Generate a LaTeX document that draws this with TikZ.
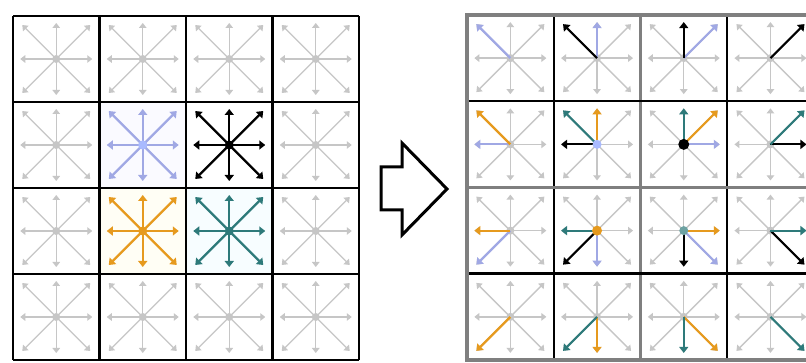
\documentclass[tikz,border=0pt]{standalone}
\usetikzlibrary{arrows.meta}
\definecolor{gr}{HTML}{C6C6C6}
\definecolor{lb}{HTML}{A0A8E4}
\definecolor{lbdot}{HTML}{A9BAFF}
\definecolor{og}{HTML}{E69A1E}
\definecolor{tl}{HTML}{2E7A7A}
\definecolor{frame}{HTML}{7F7F7F}
\tikzset{
  garrow/.style={draw=gr, line width=1.4pt, -{Triangle[length=5pt,width=7.5pt]}},
  carrow/.style={draw=#1, line width=2.2pt, -{Triangle[length=6pt,width=9pt]}},
  gridline/.style={line width=2.4pt},
}
\newcommand\gstar[1]{%
  \foreach \dx/\dy in {0/-36,0/36,36/0,-36/0,34/34,34/-34,-34/34,-34/-34}
    \draw[garrow] (#1) -- ++(\dx,\dy);
  \fill[gr] (#1) circle (4);}
\newcommand\cstar[2]{%
  \foreach \dx/\dy in {0/-36,0/36,36/0,-36/0,34/34,34/-34,-34/34,-34/-34}
    \draw[carrow=#2] (#1) -- ++(\dx,\dy);
  \fill[#2] (#1) circle (4.5);}
\newcommand\carr[4]{\draw[carrow=#4] (#1) -- ++(#2,#3);}
\begin{document}
\begin{tikzpicture}[x=1pt,y=-1pt]
\useasboundingbox (0,0) rectangle (806,363);
\clip (0,0) rectangle (806,363);
\fill[white] (0,0) rectangle (806,363);
\foreach \r in {0,...,3} \foreach \c in {0,...,3} {
  \coordinate (L\r\c) at ({13+86.5*(\c+0.5)},{16+86*(\r+0.5)});
  \coordinate (R\r\c) at ({467+86.7*(\c+0.5)},{15+86.25*(\r+0.5)});
}
% tinted cells on the left
\fill[blue!2] ([shift={(-43,-43)}]L11) rectangle ([shift={(43,43)}]L11);
\fill[yellow!4] ([shift={(-43,-43)}]L21) rectangle ([shift={(43,43)}]L21);
\fill[cyan!3] ([shift={(-43,-43)}]L22) rectangle ([shift={(43,43)}]L22);
% grey stars
\foreach \r in {0,...,3} \foreach \c in {0,...,3} {
  \gstar{R\r\c}
}
\foreach \r/\c in {0/0,0/1,0/2,0/3,1/0,1/3,2/0,2/3,3/0,3/1,3/2,3/3} {
  \gstar{L\r\c}
}
% coloured stars on the left
\cstar{L11}{lb}
\fill[lbdot] (L11) circle (4.5);
\cstar{L12}{black}
\cstar{L21}{og}
\cstar{L22}{tl}
% left grid
\foreach \x in {13,99.5,186,272.5,359} \draw[gridline] (\x,16) -- (\x,360);
\foreach \y in {16,102,188,274,360} \draw[gridline] (13,\y) -- (359,\y);
% streamed arrows on the right
\carr{R00}{-34}{-34}{lb}
\carr{R01}{0}{-36}{lb}   \carr{R01}{-34}{-34}{black}
\carr{R02}{34}{-34}{lb}  \carr{R02}{0}{-36}{black}
\carr{R03}{34}{-34}{black}
\carr{R10}{-36}{0}{lb}   \carr{R10}{-34}{-34}{og}
\carr{R11}{-36}{0}{black} \carr{R11}{0}{-36}{og} \carr{R11}{-34}{-34}{tl}
\fill[lbdot] (R11) circle (4.5);
\carr{R12}{36}{0}{lb}    \carr{R12}{34}{-34}{og} \carr{R12}{0}{-36}{tl}
\fill[black] (R12) circle (5.5);
\carr{R13}{36}{0}{black} \carr{R13}{34}{-34}{tl}
\carr{R20}{-34}{34}{lb}  \carr{R20}{-36}{0}{og}
\carr{R21}{0}{36}{lb}    \carr{R21}{-34}{34}{black} \carr{R21}{-36}{0}{tl}
\fill[og] (R21) circle (5);
\carr{R22}{34}{34}{lb}   \carr{R22}{0}{36}{black} \carr{R22}{36}{0}{og}
\fill[tl!70] (R22) circle (4.5);
\carr{R23}{34}{34}{black} \carr{R23}{36}{0}{tl}
\carr{R30}{-34}{34}{og}
\carr{R31}{0}{36}{og}    \carr{R31}{-34}{34}{tl}
\carr{R32}{34}{34}{og}   \carr{R32}{0}{36}{tl}
\carr{R33}{34}{34}{tl}
% right grid
\foreach \x in {553.7,727} \draw[gridline] (\x,15) -- (\x,360);
\draw[gridline,draw=frame] (640.3,15) -- (640.3,360);
\foreach \y in {101.2,273.7} \draw[gridline] (467,\y) -- (813.7,\y);
\draw[gridline,draw=frame] (467,187.5) -- (813.7,187.5);
\draw[line width=3.2pt,draw=frame] (467,15) rectangle (813.7,360);
% big arrow
\draw[line width=3pt,fill=white,line join=miter]
  (381,167) -- (402,167) -- (402,143) -- (447,189) -- (402,235) -- (402,210) -- (381,210) -- cycle;
\end{tikzpicture}
\end{document}
